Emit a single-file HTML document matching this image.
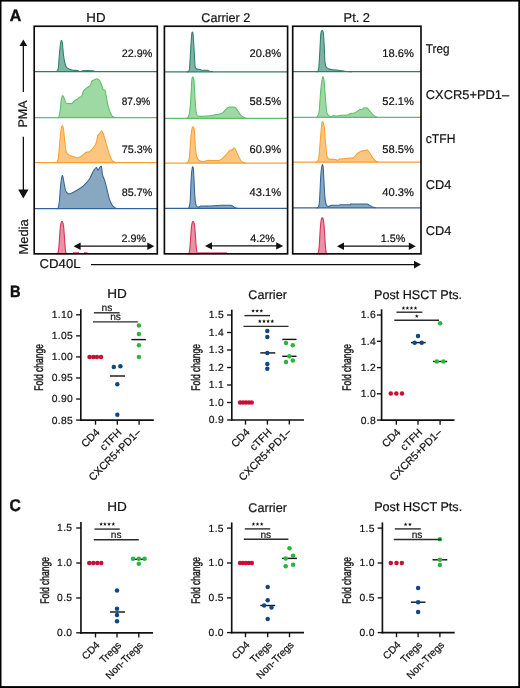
<!DOCTYPE html><html><head><meta charset="utf-8"><style>html,body{margin:0;padding:0;background:#fff;overflow:hidden}svg{display:block;will-change:transform}text{font-family:"Liberation Sans",sans-serif;text-rendering:geometricPrecision}</style></head><body>
<svg width="520" height="688" viewBox="0 0 520 688">
<rect x="0" y="0" width="520" height="688" fill="#fff"/>
<path d="M55.00,71.50 C55.23,71.48 56.50,71.71 56.90,71.30 C57.30,70.89 57.99,70.28 58.30,68.10 C58.61,65.92 59.22,56.11 59.50,53.10 C59.78,50.09 60.36,44.54 60.60,43.00 C60.84,41.46 61.28,40.30 61.50,40.30 C61.72,40.30 62.16,41.24 62.40,43.00 C62.64,44.76 63.19,52.54 63.50,55.00 C63.81,57.46 64.62,62.00 65.00,63.50 C65.38,65.00 66.15,66.82 66.70,67.50 C67.25,68.18 68.83,68.88 69.60,69.20 C70.37,69.52 72.13,70.03 73.10,70.20 C74.07,70.37 76.80,70.43 77.70,70.60 C78.60,70.77 79.98,71.58 80.60,71.60 C81.22,71.62 81.45,70.90 82.90,70.80 C84.35,70.70 91.25,70.72 92.70,70.80 C94.15,70.88 94.48,71.42 95.00,71.50 C95.52,71.58 96.76,71.50 97.00,71.50 L97.00,71.50 L55.00,71.50 Z" fill="#7db4a2" stroke="none"/>
<path d="M55.00,71.50 C55.23,71.48 56.50,71.71 56.90,71.30 C57.30,70.89 57.99,70.28 58.30,68.10 C58.61,65.92 59.22,56.11 59.50,53.10 C59.78,50.09 60.36,44.54 60.60,43.00 C60.84,41.46 61.28,40.30 61.50,40.30 C61.72,40.30 62.16,41.24 62.40,43.00 C62.64,44.76 63.19,52.54 63.50,55.00 C63.81,57.46 64.62,62.00 65.00,63.50 C65.38,65.00 66.15,66.82 66.70,67.50 C67.25,68.18 68.83,68.88 69.60,69.20 C70.37,69.52 72.13,70.03 73.10,70.20 C74.07,70.37 76.80,70.43 77.70,70.60 C78.60,70.77 79.98,71.58 80.60,71.60 C81.22,71.62 81.45,70.90 82.90,70.80 C84.35,70.70 91.25,70.72 92.70,70.80 C94.15,70.88 94.48,71.42 95.00,71.50 C95.52,71.58 96.76,71.50 97.00,71.50" fill="none" stroke="#2b7f69" stroke-width="1.05" stroke-linejoin="round"/>
<line x1="34.2" y1="71.5" x2="157.3" y2="71.5" stroke="#2b7f69" stroke-width="1.25"/>
<path d="M57.00,117.50 C57.20,117.48 58.33,118.08 58.70,117.30 C59.07,116.52 59.78,113.21 60.10,111.00 C60.42,108.79 61.08,100.75 61.40,98.90 C61.72,97.05 62.48,95.68 62.80,95.60 C63.12,95.52 63.69,97.31 64.10,98.20 C64.51,99.09 65.64,102.35 66.20,103.00 C66.76,103.65 68.08,103.58 68.80,103.60 C69.52,103.62 71.47,103.57 72.20,103.20 C72.93,102.83 74.25,101.02 74.90,100.50 C75.55,99.98 77.12,99.25 77.60,98.90 C78.08,98.55 78.42,97.92 78.90,97.60 C79.38,97.28 81.04,97.02 81.60,96.20 C82.16,95.38 83.04,91.76 83.60,90.80 C84.16,89.84 85.48,88.84 86.30,88.20 C87.12,87.56 89.75,86.32 90.40,85.50 C91.05,84.68 91.22,82.08 91.70,81.40 C92.18,80.72 93.75,80.12 94.40,79.80 C95.05,79.48 96.45,78.59 97.10,78.70 C97.75,78.81 99.24,79.88 99.80,80.70 C100.36,81.52 101.39,84.44 101.80,85.50 C102.21,86.56 102.79,88.86 103.20,89.50 C103.61,90.14 104.72,89.35 105.20,90.80 C105.68,92.25 106.72,99.33 107.20,101.60 C107.68,103.87 108.64,108.01 109.20,109.70 C109.76,111.39 111.25,114.78 111.90,115.70 C112.55,116.62 114.11,117.18 114.60,117.40 C115.09,117.62 115.83,117.49 116.00,117.50 L116.00,117.50 L57.00,117.50 Z" fill="#9dd9a3" stroke="none"/>
<path d="M57.00,117.50 C57.20,117.48 58.33,118.08 58.70,117.30 C59.07,116.52 59.78,113.21 60.10,111.00 C60.42,108.79 61.08,100.75 61.40,98.90 C61.72,97.05 62.48,95.68 62.80,95.60 C63.12,95.52 63.69,97.31 64.10,98.20 C64.51,99.09 65.64,102.35 66.20,103.00 C66.76,103.65 68.08,103.58 68.80,103.60 C69.52,103.62 71.47,103.57 72.20,103.20 C72.93,102.83 74.25,101.02 74.90,100.50 C75.55,99.98 77.12,99.25 77.60,98.90 C78.08,98.55 78.42,97.92 78.90,97.60 C79.38,97.28 81.04,97.02 81.60,96.20 C82.16,95.38 83.04,91.76 83.60,90.80 C84.16,89.84 85.48,88.84 86.30,88.20 C87.12,87.56 89.75,86.32 90.40,85.50 C91.05,84.68 91.22,82.08 91.70,81.40 C92.18,80.72 93.75,80.12 94.40,79.80 C95.05,79.48 96.45,78.59 97.10,78.70 C97.75,78.81 99.24,79.88 99.80,80.70 C100.36,81.52 101.39,84.44 101.80,85.50 C102.21,86.56 102.79,88.86 103.20,89.50 C103.61,90.14 104.72,89.35 105.20,90.80 C105.68,92.25 106.72,99.33 107.20,101.60 C107.68,103.87 108.64,108.01 109.20,109.70 C109.76,111.39 111.25,114.78 111.90,115.70 C112.55,116.62 114.11,117.18 114.60,117.40 C115.09,117.62 115.83,117.49 116.00,117.50" fill="none" stroke="#5cbf68" stroke-width="1.05" stroke-linejoin="round"/>
<line x1="34.2" y1="117.5" x2="157.3" y2="117.5" stroke="#5cbf68" stroke-width="1.25"/>
<path d="M55.00,162.70 C55.20,162.66 56.30,162.92 56.70,162.40 C57.10,161.88 57.89,161.30 58.30,158.40 C58.71,155.50 59.73,141.92 60.10,138.20 C60.47,134.48 61.12,128.89 61.40,127.40 C61.68,125.91 62.15,125.63 62.40,125.80 C62.65,125.97 63.21,126.83 63.50,128.80 C63.79,130.77 64.48,139.46 64.80,142.20 C65.12,144.94 65.72,150.06 66.20,151.60 C66.68,153.14 68.00,154.42 68.80,155.00 C69.60,155.58 71.76,156.08 72.90,156.40 C74.04,156.72 77.17,157.82 78.30,157.70 C79.43,157.58 81.34,156.05 82.30,155.40 C83.26,154.75 85.41,152.76 86.30,152.30 C87.19,151.84 88.73,152.32 89.70,151.60 C90.67,150.88 93.60,147.43 94.40,146.30 C95.20,145.17 95.99,143.50 96.40,142.20 C96.81,140.90 97.39,136.54 97.80,135.50 C98.21,134.46 99.36,134.03 99.80,133.50 C100.24,132.97 101.09,131.10 101.50,131.10 C101.91,131.10 102.60,131.84 103.20,133.50 C103.80,135.16 105.70,142.24 106.50,144.90 C107.30,147.56 109.17,153.76 109.90,155.70 C110.63,157.64 111.87,160.27 112.60,161.10 C113.33,161.93 115.47,162.41 116.00,162.60 C116.53,162.79 116.88,162.69 117.00,162.70 L117.00,162.70 L55.00,162.70 Z" fill="#fcc580" stroke="none"/>
<path d="M55.00,162.70 C55.20,162.66 56.30,162.92 56.70,162.40 C57.10,161.88 57.89,161.30 58.30,158.40 C58.71,155.50 59.73,141.92 60.10,138.20 C60.47,134.48 61.12,128.89 61.40,127.40 C61.68,125.91 62.15,125.63 62.40,125.80 C62.65,125.97 63.21,126.83 63.50,128.80 C63.79,130.77 64.48,139.46 64.80,142.20 C65.12,144.94 65.72,150.06 66.20,151.60 C66.68,153.14 68.00,154.42 68.80,155.00 C69.60,155.58 71.76,156.08 72.90,156.40 C74.04,156.72 77.17,157.82 78.30,157.70 C79.43,157.58 81.34,156.05 82.30,155.40 C83.26,154.75 85.41,152.76 86.30,152.30 C87.19,151.84 88.73,152.32 89.70,151.60 C90.67,150.88 93.60,147.43 94.40,146.30 C95.20,145.17 95.99,143.50 96.40,142.20 C96.81,140.90 97.39,136.54 97.80,135.50 C98.21,134.46 99.36,134.03 99.80,133.50 C100.24,132.97 101.09,131.10 101.50,131.10 C101.91,131.10 102.60,131.84 103.20,133.50 C103.80,135.16 105.70,142.24 106.50,144.90 C107.30,147.56 109.17,153.76 109.90,155.70 C110.63,157.64 111.87,160.27 112.60,161.10 C113.33,161.93 115.47,162.41 116.00,162.60 C116.53,162.79 116.88,162.69 117.00,162.70" fill="none" stroke="#f8a031" stroke-width="1.05" stroke-linejoin="round"/>
<line x1="34.2" y1="162.7" x2="157.3" y2="162.7" stroke="#f8a031" stroke-width="1.25"/>
<path d="M56.50,208.40 C56.69,208.38 57.75,209.09 58.10,208.20 C58.45,207.31 59.08,203.96 59.40,201.00 C59.72,198.04 60.44,186.56 60.80,183.50 C61.16,180.44 62.05,175.82 62.40,175.50 C62.75,175.18 63.33,179.02 63.70,180.80 C64.07,182.58 64.96,188.76 65.50,190.30 C66.04,191.84 67.48,193.25 68.20,193.60 C68.92,193.95 70.46,193.60 71.50,193.20 C72.54,192.80 75.45,191.21 76.90,190.30 C78.35,189.39 82.06,186.98 83.60,185.60 C85.14,184.22 88.56,180.50 89.70,178.80 C90.84,177.10 92.30,172.77 93.10,171.40 C93.90,170.03 95.81,167.53 96.40,167.40 C96.99,167.27 97.59,170.30 98.00,170.30 C98.41,170.30 99.38,167.83 99.80,167.40 C100.22,166.97 101.18,165.81 101.50,166.70 C101.82,167.59 102.06,172.94 102.50,174.80 C102.94,176.66 104.40,179.38 105.20,182.20 C106.00,185.02 108.31,195.48 109.20,198.30 C110.09,201.12 111.78,204.50 112.60,205.70 C113.42,206.90 115.47,207.98 116.00,208.30 C116.53,208.62 116.88,208.39 117.00,208.40 L117.00,208.70 L56.50,208.70 Z" fill="#88a8c2" stroke="none"/>
<path d="M56.50,208.40 C56.69,208.38 57.75,209.09 58.10,208.20 C58.45,207.31 59.08,203.96 59.40,201.00 C59.72,198.04 60.44,186.56 60.80,183.50 C61.16,180.44 62.05,175.82 62.40,175.50 C62.75,175.18 63.33,179.02 63.70,180.80 C64.07,182.58 64.96,188.76 65.50,190.30 C66.04,191.84 67.48,193.25 68.20,193.60 C68.92,193.95 70.46,193.60 71.50,193.20 C72.54,192.80 75.45,191.21 76.90,190.30 C78.35,189.39 82.06,186.98 83.60,185.60 C85.14,184.22 88.56,180.50 89.70,178.80 C90.84,177.10 92.30,172.77 93.10,171.40 C93.90,170.03 95.81,167.53 96.40,167.40 C96.99,167.27 97.59,170.30 98.00,170.30 C98.41,170.30 99.38,167.83 99.80,167.40 C100.22,166.97 101.18,165.81 101.50,166.70 C101.82,167.59 102.06,172.94 102.50,174.80 C102.94,176.66 104.40,179.38 105.20,182.20 C106.00,185.02 108.31,195.48 109.20,198.30 C110.09,201.12 111.78,204.50 112.60,205.70 C113.42,206.90 115.47,207.98 116.00,208.30 C116.53,208.62 116.88,208.39 117.00,208.40" fill="none" stroke="#336396" stroke-width="1.05" stroke-linejoin="round"/>
<line x1="34.2" y1="208.7" x2="157.3" y2="208.7" stroke="#336396" stroke-width="1.25"/>
<path d="M186.50,71.80 C186.69,71.79 187.74,72.06 188.10,71.70 C188.46,71.34 189.18,71.74 189.50,68.80 C189.82,65.86 190.52,51.40 190.80,47.20 C191.08,43.00 191.61,35.61 191.80,33.80 C191.99,31.99 192.24,32.08 192.40,32.10 C192.56,32.12 192.90,31.91 193.10,34.00 C193.30,36.09 193.87,45.70 194.10,49.50 C194.33,53.30 194.75,63.38 195.00,65.70 C195.25,68.02 195.55,68.34 196.20,68.80 C196.85,69.26 199.76,69.32 200.40,69.50 C201.04,69.68 200.62,70.20 201.50,70.30 C202.38,70.40 206.78,70.19 207.70,70.30 C208.62,70.41 208.65,71.06 209.20,71.20 C209.75,71.34 211.83,71.43 212.30,71.50 C212.77,71.57 213.00,71.76 213.10,71.80 L213.10,71.80 L186.50,71.80 Z" fill="#7db4a2" stroke="none"/>
<path d="M186.50,71.80 C186.69,71.79 187.74,72.06 188.10,71.70 C188.46,71.34 189.18,71.74 189.50,68.80 C189.82,65.86 190.52,51.40 190.80,47.20 C191.08,43.00 191.61,35.61 191.80,33.80 C191.99,31.99 192.24,32.08 192.40,32.10 C192.56,32.12 192.90,31.91 193.10,34.00 C193.30,36.09 193.87,45.70 194.10,49.50 C194.33,53.30 194.75,63.38 195.00,65.70 C195.25,68.02 195.55,68.34 196.20,68.80 C196.85,69.26 199.76,69.32 200.40,69.50 C201.04,69.68 200.62,70.20 201.50,70.30 C202.38,70.40 206.78,70.19 207.70,70.30 C208.62,70.41 208.65,71.06 209.20,71.20 C209.75,71.34 211.83,71.43 212.30,71.50 C212.77,71.57 213.00,71.76 213.10,71.80" fill="none" stroke="#2b7f69" stroke-width="1.05" stroke-linejoin="round"/>
<line x1="164.4" y1="71.8" x2="287.6" y2="71.8" stroke="#2b7f69" stroke-width="1.25"/>
<path d="M186.00,118.30 C186.17,118.29 186.99,118.75 187.40,118.20 C187.81,117.65 188.99,116.02 189.40,113.70 C189.81,111.38 190.51,102.93 190.80,98.90 C191.09,94.87 191.56,82.72 191.80,80.10 C192.04,77.48 192.55,77.10 192.80,77.10 C193.05,77.10 193.62,77.48 193.90,80.10 C194.18,82.72 194.82,95.02 195.10,98.90 C195.38,102.78 195.83,110.34 196.20,112.40 C196.57,114.46 196.92,115.66 198.20,116.10 C199.48,116.54 204.88,116.26 206.90,116.10 C208.92,115.94 213.38,115.09 215.00,114.80 C216.62,114.51 219.43,113.99 220.40,113.70 C221.37,113.41 222.21,113.12 223.10,112.40 C223.99,111.68 226.91,108.35 227.80,107.70 C228.69,107.05 229.61,107.05 230.50,107.00 C231.39,106.95 234.31,106.82 235.20,107.30 C236.09,107.78 237.18,109.99 237.90,111.00 C238.62,112.01 240.40,114.88 241.20,115.70 C242.00,116.52 244.02,117.49 244.60,117.80 C245.18,118.11 245.83,118.24 246.00,118.30 L246.00,118.30 L186.00,118.30 Z" fill="#9dd9a3" stroke="none"/>
<path d="M186.00,118.30 C186.17,118.29 186.99,118.75 187.40,118.20 C187.81,117.65 188.99,116.02 189.40,113.70 C189.81,111.38 190.51,102.93 190.80,98.90 C191.09,94.87 191.56,82.72 191.80,80.10 C192.04,77.48 192.55,77.10 192.80,77.10 C193.05,77.10 193.62,77.48 193.90,80.10 C194.18,82.72 194.82,95.02 195.10,98.90 C195.38,102.78 195.83,110.34 196.20,112.40 C196.57,114.46 196.92,115.66 198.20,116.10 C199.48,116.54 204.88,116.26 206.90,116.10 C208.92,115.94 213.38,115.09 215.00,114.80 C216.62,114.51 219.43,113.99 220.40,113.70 C221.37,113.41 222.21,113.12 223.10,112.40 C223.99,111.68 226.91,108.35 227.80,107.70 C228.69,107.05 229.61,107.05 230.50,107.00 C231.39,106.95 234.31,106.82 235.20,107.30 C236.09,107.78 237.18,109.99 237.90,111.00 C238.62,112.01 240.40,114.88 241.20,115.70 C242.00,116.52 244.02,117.49 244.60,117.80 C245.18,118.11 245.83,118.24 246.00,118.30" fill="none" stroke="#5cbf68" stroke-width="1.05" stroke-linejoin="round"/>
<line x1="164.4" y1="118.3" x2="287.6" y2="118.3" stroke="#5cbf68" stroke-width="1.25"/>
<path d="M186.00,163.00 C186.17,162.98 187.02,163.35 187.40,162.80 C187.78,162.25 188.79,161.35 189.20,158.40 C189.61,155.45 190.45,141.84 190.80,138.20 C191.15,134.56 191.81,129.46 192.10,128.10 C192.39,126.74 192.94,126.66 193.20,126.90 C193.46,127.14 194.02,127.45 194.30,130.10 C194.58,132.75 195.20,145.77 195.50,149.00 C195.80,152.23 196.32,155.58 196.80,157.00 C197.28,158.42 198.68,160.24 199.50,160.80 C200.32,161.36 202.63,161.75 203.60,161.70 C204.57,161.65 205.75,160.56 207.60,160.40 C209.45,160.24 217.14,160.72 219.00,160.40 C220.86,160.08 222.13,158.50 223.10,157.70 C224.07,156.90 226.30,154.59 227.10,153.70 C227.90,152.81 229.24,150.74 229.80,150.30 C230.36,149.86 231.24,150.29 231.80,150.00 C232.36,149.71 234.01,147.86 234.50,147.90 C234.99,147.94 235.49,149.45 235.90,150.30 C236.31,151.15 237.26,153.70 237.90,155.00 C238.54,156.30 240.40,160.16 241.20,161.10 C242.00,162.04 244.02,162.57 244.60,162.80 C245.18,163.03 245.83,162.98 246.00,163.00 L246.00,163.00 L186.00,163.00 Z" fill="#fcc580" stroke="none"/>
<path d="M186.00,163.00 C186.17,162.98 187.02,163.35 187.40,162.80 C187.78,162.25 188.79,161.35 189.20,158.40 C189.61,155.45 190.45,141.84 190.80,138.20 C191.15,134.56 191.81,129.46 192.10,128.10 C192.39,126.74 192.94,126.66 193.20,126.90 C193.46,127.14 194.02,127.45 194.30,130.10 C194.58,132.75 195.20,145.77 195.50,149.00 C195.80,152.23 196.32,155.58 196.80,157.00 C197.28,158.42 198.68,160.24 199.50,160.80 C200.32,161.36 202.63,161.75 203.60,161.70 C204.57,161.65 205.75,160.56 207.60,160.40 C209.45,160.24 217.14,160.72 219.00,160.40 C220.86,160.08 222.13,158.50 223.10,157.70 C224.07,156.90 226.30,154.59 227.10,153.70 C227.90,152.81 229.24,150.74 229.80,150.30 C230.36,149.86 231.24,150.29 231.80,150.00 C232.36,149.71 234.01,147.86 234.50,147.90 C234.99,147.94 235.49,149.45 235.90,150.30 C236.31,151.15 237.26,153.70 237.90,155.00 C238.54,156.30 240.40,160.16 241.20,161.10 C242.00,162.04 244.02,162.57 244.60,162.80 C245.18,163.03 245.83,162.98 246.00,163.00" fill="none" stroke="#f8a031" stroke-width="1.05" stroke-linejoin="round"/>
<line x1="164.4" y1="163.0" x2="287.6" y2="163.0" stroke="#f8a031" stroke-width="1.25"/>
<path d="M187.00,208.40 C187.20,208.38 188.33,208.92 188.70,208.20 C189.07,207.48 189.80,206.00 190.10,202.40 C190.40,198.80 190.92,182.44 191.20,178.20 C191.48,173.96 192.12,168.07 192.40,167.10 C192.68,166.13 193.21,166.68 193.50,170.10 C193.79,173.52 194.48,191.33 194.80,195.60 C195.12,199.87 195.72,204.32 196.20,205.70 C196.68,207.08 198.24,207.05 198.80,207.10 C199.36,207.15 199.69,206.22 200.90,206.10 C202.11,205.98 206.56,206.20 208.90,206.10 C211.24,206.00 217.81,205.40 220.40,205.30 C222.99,205.20 228.96,205.17 230.50,205.30 C232.04,205.43 232.64,206.10 233.20,206.40 C233.76,206.70 234.64,207.56 235.20,207.80 C235.76,208.04 237.58,208.33 237.90,208.40 L237.90,208.40 L187.00,208.40 Z" fill="#88a8c2" stroke="none"/>
<path d="M187.00,208.40 C187.20,208.38 188.33,208.92 188.70,208.20 C189.07,207.48 189.80,206.00 190.10,202.40 C190.40,198.80 190.92,182.44 191.20,178.20 C191.48,173.96 192.12,168.07 192.40,167.10 C192.68,166.13 193.21,166.68 193.50,170.10 C193.79,173.52 194.48,191.33 194.80,195.60 C195.12,199.87 195.72,204.32 196.20,205.70 C196.68,207.08 198.24,207.05 198.80,207.10 C199.36,207.15 199.69,206.22 200.90,206.10 C202.11,205.98 206.56,206.20 208.90,206.10 C211.24,206.00 217.81,205.40 220.40,205.30 C222.99,205.20 228.96,205.17 230.50,205.30 C232.04,205.43 232.64,206.10 233.20,206.40 C233.76,206.70 234.64,207.56 235.20,207.80 C235.76,208.04 237.58,208.33 237.90,208.40" fill="none" stroke="#336396" stroke-width="1.05" stroke-linejoin="round"/>
<line x1="164.4" y1="208.4" x2="287.6" y2="208.4" stroke="#336396" stroke-width="1.25"/>
<path d="M316.00,71.70 C316.20,71.66 317.36,71.93 317.70,71.40 C318.04,70.87 318.54,69.87 318.80,67.30 C319.06,64.73 319.66,54.03 319.90,50.00 C320.14,45.97 320.55,36.03 320.80,33.70 C321.05,31.37 321.70,30.72 322.00,30.60 C322.30,30.48 323.04,30.95 323.30,32.70 C323.56,34.45 324.01,41.73 324.20,45.20 C324.39,48.67 324.65,58.95 324.90,61.60 C325.15,64.25 325.78,66.40 326.30,67.30 C326.82,68.20 328.44,68.80 329.20,69.10 C329.96,69.40 331.33,69.64 332.60,69.80 C333.87,69.96 338.36,70.23 339.80,70.40 C341.24,70.57 343.10,71.04 344.60,71.20 C346.10,71.36 351.38,71.64 352.30,71.70 L352.30,71.70 L316.00,71.70 Z" fill="#7db4a2" stroke="none"/>
<path d="M316.00,71.70 C316.20,71.66 317.36,71.93 317.70,71.40 C318.04,70.87 318.54,69.87 318.80,67.30 C319.06,64.73 319.66,54.03 319.90,50.00 C320.14,45.97 320.55,36.03 320.80,33.70 C321.05,31.37 321.70,30.72 322.00,30.60 C322.30,30.48 323.04,30.95 323.30,32.70 C323.56,34.45 324.01,41.73 324.20,45.20 C324.39,48.67 324.65,58.95 324.90,61.60 C325.15,64.25 325.78,66.40 326.30,67.30 C326.82,68.20 328.44,68.80 329.20,69.10 C329.96,69.40 331.33,69.64 332.60,69.80 C333.87,69.96 338.36,70.23 339.80,70.40 C341.24,70.57 343.10,71.04 344.60,71.20 C346.10,71.36 351.38,71.64 352.30,71.70" fill="none" stroke="#2b7f69" stroke-width="1.05" stroke-linejoin="round"/>
<line x1="292.7" y1="71.7" x2="421.0" y2="71.7" stroke="#2b7f69" stroke-width="1.25"/>
<path d="M316.00,117.30 C316.17,117.24 317.02,117.56 317.40,116.80 C317.78,116.04 318.79,114.28 319.20,111.00 C319.61,107.72 320.37,93.62 320.80,89.50 C321.23,85.38 322.40,77.67 322.80,76.70 C323.20,75.73 323.78,78.74 324.10,81.40 C324.42,84.06 325.18,95.18 325.50,98.90 C325.82,102.62 326.40,110.38 326.80,112.40 C327.20,114.42 328.24,115.22 328.80,115.70 C329.36,116.18 330.92,116.45 331.50,116.40 C332.08,116.35 333.11,115.34 333.60,115.30 C334.09,115.26 334.71,116.10 335.60,116.10 C336.49,116.10 339.55,115.42 341.00,115.30 C342.45,115.18 346.57,115.32 347.70,115.10 C348.83,114.88 349.60,113.75 350.40,113.50 C351.20,113.25 353.43,113.37 354.40,113.00 C355.37,112.63 357.85,110.83 358.50,110.40 C359.15,109.97 359.40,109.48 359.80,109.40 C360.20,109.32 361.32,109.86 361.80,109.70 C362.28,109.54 363.15,108.29 363.80,108.10 C364.45,107.91 366.55,107.82 367.20,108.10 C367.85,108.38 368.55,109.64 369.20,110.40 C369.85,111.16 371.80,113.63 372.60,114.40 C373.40,115.17 375.31,116.45 375.90,116.80 C376.49,117.15 377.31,117.24 377.50,117.30 L377.50,117.30 L316.00,117.30 Z" fill="#9dd9a3" stroke="none"/>
<path d="M316.00,117.30 C316.17,117.24 317.02,117.56 317.40,116.80 C317.78,116.04 318.79,114.28 319.20,111.00 C319.61,107.72 320.37,93.62 320.80,89.50 C321.23,85.38 322.40,77.67 322.80,76.70 C323.20,75.73 323.78,78.74 324.10,81.40 C324.42,84.06 325.18,95.18 325.50,98.90 C325.82,102.62 326.40,110.38 326.80,112.40 C327.20,114.42 328.24,115.22 328.80,115.70 C329.36,116.18 330.92,116.45 331.50,116.40 C332.08,116.35 333.11,115.34 333.60,115.30 C334.09,115.26 334.71,116.10 335.60,116.10 C336.49,116.10 339.55,115.42 341.00,115.30 C342.45,115.18 346.57,115.32 347.70,115.10 C348.83,114.88 349.60,113.75 350.40,113.50 C351.20,113.25 353.43,113.37 354.40,113.00 C355.37,112.63 357.85,110.83 358.50,110.40 C359.15,109.97 359.40,109.48 359.80,109.40 C360.20,109.32 361.32,109.86 361.80,109.70 C362.28,109.54 363.15,108.29 363.80,108.10 C364.45,107.91 366.55,107.82 367.20,108.10 C367.85,108.38 368.55,109.64 369.20,110.40 C369.85,111.16 371.80,113.63 372.60,114.40 C373.40,115.17 375.31,116.45 375.90,116.80 C376.49,117.15 377.31,117.24 377.50,117.30" fill="none" stroke="#5cbf68" stroke-width="1.05" stroke-linejoin="round"/>
<line x1="292.7" y1="117.3" x2="421.0" y2="117.3" stroke="#5cbf68" stroke-width="1.25"/>
<path d="M315.00,162.20 C315.20,162.19 316.26,162.56 316.70,162.10 C317.14,161.64 318.24,161.27 318.70,158.40 C319.16,155.53 320.13,142.40 320.50,138.20 C320.87,134.00 321.52,125.37 321.80,123.40 C322.08,121.43 322.52,121.48 322.80,121.80 C323.08,122.12 323.78,123.65 324.10,126.10 C324.42,128.55 325.18,138.65 325.50,142.20 C325.82,145.75 326.40,153.68 326.80,155.70 C327.20,157.72 327.74,158.54 328.80,159.00 C329.86,159.46 334.54,159.33 335.60,159.50 C336.66,159.67 337.12,160.46 337.60,160.40 C338.08,160.34 338.71,159.22 339.60,159.00 C340.49,158.78 343.87,158.72 345.00,158.60 C346.13,158.48 348.03,158.11 349.00,158.00 C349.97,157.89 352.13,158.22 353.10,157.70 C354.07,157.18 356.21,154.46 357.10,153.70 C357.99,152.94 359.70,151.76 360.50,151.40 C361.30,151.04 363.00,150.88 363.80,150.70 C364.60,150.52 366.55,149.71 367.20,149.90 C367.85,150.09 368.47,151.28 369.20,152.30 C369.93,153.32 372.50,157.32 373.30,158.40 C374.10,159.48 375.26,160.84 375.90,161.30 C376.54,161.76 378.28,162.09 378.60,162.20 L378.60,162.20 L315.00,162.20 Z" fill="#fcc580" stroke="none"/>
<path d="M315.00,162.20 C315.20,162.19 316.26,162.56 316.70,162.10 C317.14,161.64 318.24,161.27 318.70,158.40 C319.16,155.53 320.13,142.40 320.50,138.20 C320.87,134.00 321.52,125.37 321.80,123.40 C322.08,121.43 322.52,121.48 322.80,121.80 C323.08,122.12 323.78,123.65 324.10,126.10 C324.42,128.55 325.18,138.65 325.50,142.20 C325.82,145.75 326.40,153.68 326.80,155.70 C327.20,157.72 327.74,158.54 328.80,159.00 C329.86,159.46 334.54,159.33 335.60,159.50 C336.66,159.67 337.12,160.46 337.60,160.40 C338.08,160.34 338.71,159.22 339.60,159.00 C340.49,158.78 343.87,158.72 345.00,158.60 C346.13,158.48 348.03,158.11 349.00,158.00 C349.97,157.89 352.13,158.22 353.10,157.70 C354.07,157.18 356.21,154.46 357.10,153.70 C357.99,152.94 359.70,151.76 360.50,151.40 C361.30,151.04 363.00,150.88 363.80,150.70 C364.60,150.52 366.55,149.71 367.20,149.90 C367.85,150.09 368.47,151.28 369.20,152.30 C369.93,153.32 372.50,157.32 373.30,158.40 C374.10,159.48 375.26,160.84 375.90,161.30 C376.54,161.76 378.28,162.09 378.60,162.20" fill="none" stroke="#f8a031" stroke-width="1.05" stroke-linejoin="round"/>
<line x1="292.7" y1="162.2" x2="421.0" y2="162.2" stroke="#f8a031" stroke-width="1.25"/>
<path d="M316.50,207.80 C316.69,207.76 317.75,208.15 318.10,207.50 C318.45,206.85 319.08,206.24 319.40,202.40 C319.72,198.56 320.48,179.94 320.80,175.50 C321.12,171.06 321.81,166.37 322.10,165.40 C322.39,164.43 322.88,163.78 323.20,167.40 C323.52,171.02 324.42,191.08 324.80,195.60 C325.18,200.12 325.92,203.80 326.40,205.10 C326.88,206.40 328.19,206.38 328.80,206.40 C329.41,206.42 330.29,205.43 331.50,205.30 C332.71,205.17 337.84,205.36 338.90,205.30 C339.96,205.24 338.92,204.86 340.30,204.80 C341.68,204.74 349.12,204.88 350.40,204.80 C351.68,204.72 349.07,204.18 351.00,204.10 C352.93,204.02 364.32,203.98 366.50,204.10 C368.68,204.22 368.47,204.74 369.20,205.10 C369.93,205.46 371.80,206.78 372.60,207.10 C373.40,207.42 375.50,207.72 375.90,207.80 L375.90,207.80 L316.50,207.80 Z" fill="#88a8c2" stroke="none"/>
<path d="M316.50,207.80 C316.69,207.76 317.75,208.15 318.10,207.50 C318.45,206.85 319.08,206.24 319.40,202.40 C319.72,198.56 320.48,179.94 320.80,175.50 C321.12,171.06 321.81,166.37 322.10,165.40 C322.39,164.43 322.88,163.78 323.20,167.40 C323.52,171.02 324.42,191.08 324.80,195.60 C325.18,200.12 325.92,203.80 326.40,205.10 C326.88,206.40 328.19,206.38 328.80,206.40 C329.41,206.42 330.29,205.43 331.50,205.30 C332.71,205.17 337.84,205.36 338.90,205.30 C339.96,205.24 338.92,204.86 340.30,204.80 C341.68,204.74 349.12,204.88 350.40,204.80 C351.68,204.72 349.07,204.18 351.00,204.10 C352.93,204.02 364.32,203.98 366.50,204.10 C368.68,204.22 368.47,204.74 369.20,205.10 C369.93,205.46 371.80,206.78 372.60,207.10 C373.40,207.42 375.50,207.72 375.90,207.80" fill="none" stroke="#336396" stroke-width="1.05" stroke-linejoin="round"/>
<line x1="292.7" y1="207.8" x2="421.0" y2="207.8" stroke="#336396" stroke-width="1.25"/>
<path d="M57.00,253.60 C57.13,253.48 57.86,253.56 58.10,252.60 C58.34,251.64 58.81,247.57 59.00,245.57 C59.19,243.58 59.48,238.26 59.65,235.94 C59.82,233.63 60.25,227.98 60.45,226.31 C60.65,224.65 61.11,222.68 61.30,222.10 C61.49,221.52 61.83,221.50 62.00,221.50 C62.17,221.50 62.51,221.52 62.70,222.10 C62.89,222.68 63.35,224.65 63.55,226.31 C63.75,227.98 64.18,233.63 64.35,235.94 C64.52,238.26 64.81,243.58 65.00,245.57 C65.19,247.57 65.66,251.64 65.90,252.60 C66.14,253.56 66.87,253.48 67.00,253.60 Z" fill="#e991a5" stroke="#d23456" stroke-width="1.1"/>
<path d="M188.10,253.60 C188.23,253.48 188.96,253.56 189.20,252.60 C189.44,251.64 189.91,247.57 190.10,245.57 C190.29,243.58 190.58,238.26 190.75,235.94 C190.92,233.63 191.35,227.98 191.55,226.31 C191.75,224.65 192.21,222.68 192.40,222.10 C192.59,221.52 192.93,221.50 193.10,221.50 C193.27,221.50 193.61,221.52 193.80,222.10 C193.99,222.68 194.45,224.65 194.65,226.31 C194.85,227.98 195.28,233.63 195.45,235.94 C195.62,238.26 195.91,243.58 196.10,245.57 C196.29,247.57 196.76,251.64 197.00,252.60 C197.24,253.56 197.97,253.48 198.10,253.60 Z" fill="#e991a5" stroke="#d23456" stroke-width="1.1"/>
<path d="M317.30,253.60 C317.43,253.48 318.16,253.67 318.40,252.60 C318.64,251.53 319.11,246.91 319.30,244.68 C319.49,242.44 319.78,236.54 319.95,233.97 C320.12,231.39 320.55,225.11 320.75,223.25 C320.95,221.40 321.41,219.14 321.60,218.50 C321.79,217.86 322.13,217.90 322.30,217.90 C322.47,217.90 322.81,217.86 323.00,218.50 C323.19,219.14 323.65,221.40 323.85,223.25 C324.05,225.11 324.48,231.39 324.65,233.97 C324.82,236.54 325.11,242.44 325.30,244.68 C325.49,246.91 325.96,251.53 326.20,252.60 C326.44,253.67 327.17,253.48 327.30,253.60 Z" fill="#e991a5" stroke="#d23456" stroke-width="1.1"/>
<line x1="73" y1="252.9" x2="79" y2="252.9" stroke="#d23456" stroke-width="1.3"/>
<line x1="84" y1="252.9" x2="87.5" y2="252.9" stroke="#d23456" stroke-width="1.3"/>
<line x1="198" y1="252.9" x2="227" y2="252.9" stroke="#d23456" stroke-width="1"/>
<rect x="34.2" y="26.25" width="123.10" height="227.60" fill="none" stroke="#0a0a0a" stroke-width="1.65"/>
<rect x="164.4" y="26.25" width="123.20" height="227.60" fill="none" stroke="#0a0a0a" stroke-width="1.65"/>
<rect x="292.7" y="26.25" width="128.30" height="227.60" fill="none" stroke="#0a0a0a" stroke-width="1.65"/>
<text x="121.7" y="56.9" font-size="10.8" text-anchor="start" font-weight="normal" fill="#111" stroke="#111" stroke-width="0.2" >22.9%</text>
<text x="121.7" y="104.9" font-size="10.8" text-anchor="start" font-weight="normal" fill="#111" textLength="28.6" lengthAdjust="spacingAndGlyphs" stroke="#111" stroke-width="0.2" >87.9%</text>
<text x="121.7" y="152.9" font-size="10.8" text-anchor="start" font-weight="normal" fill="#111" stroke="#111" stroke-width="0.2" >75.3%</text>
<text x="121.7" y="196.0" font-size="10.8" text-anchor="start" font-weight="normal" fill="#111" stroke="#111" stroke-width="0.2" >85.7%</text>
<text x="249.6" y="57.3" font-size="11.15" text-anchor="start" font-weight="normal" fill="#111" stroke="#111" stroke-width="0.2" >20.8%</text>
<text x="249.6" y="105.0" font-size="11.15" text-anchor="start" font-weight="normal" fill="#111" stroke="#111" stroke-width="0.2" >58.5%</text>
<text x="249.6" y="153.0" font-size="11.15" text-anchor="start" font-weight="normal" fill="#111" stroke="#111" stroke-width="0.2" >60.9%</text>
<text x="249.6" y="195.8" font-size="11.15" text-anchor="start" font-weight="normal" fill="#111" stroke="#111" stroke-width="0.2" >43.1%</text>
<text x="382.3" y="57.3" font-size="11.15" text-anchor="start" font-weight="normal" fill="#111" stroke="#111" stroke-width="0.2" >18.6%</text>
<text x="382.3" y="105.0" font-size="11.15" text-anchor="start" font-weight="normal" fill="#111" stroke="#111" stroke-width="0.2" >52.1%</text>
<text x="382.3" y="153.0" font-size="11.15" text-anchor="start" font-weight="normal" fill="#111" stroke="#111" stroke-width="0.2" >58.5%</text>
<text x="382.3" y="195.8" font-size="11.15" text-anchor="start" font-weight="normal" fill="#111" stroke="#111" stroke-width="0.2" >40.3%</text>
<text x="121.6" y="241.8" font-size="10.8" text-anchor="start" font-weight="normal" fill="#111" stroke="#111" stroke-width="0.2" >2.9%</text>
<text x="250.3" y="242.0" font-size="10.8" text-anchor="start" font-weight="normal" fill="#111" stroke="#111" stroke-width="0.2" >4.2%</text>
<text x="380.8" y="242.0" font-size="10.8" text-anchor="start" font-weight="normal" fill="#111" stroke="#111" stroke-width="0.2" >1.5%</text>
<line x1="78.6" y1="246.2" x2="149.3" y2="246.2" stroke="#111" stroke-width="1.3"/>
<path d="M73.6,246.2 L80.6,242.5 L80.6,249.89999999999998 Z" fill="#111"/>
<path d="M154.3,246.2 L147.3,242.5 L147.3,249.89999999999998 Z" fill="#111"/>
<line x1="210.0" y1="245.9" x2="278.2" y2="245.9" stroke="#111" stroke-width="1.3"/>
<path d="M205.0,245.9 L212.0,242.20000000000002 L212.0,249.6 Z" fill="#111"/>
<path d="M283.2,245.9 L276.2,242.20000000000002 L276.2,249.6 Z" fill="#111"/>
<line x1="342.0" y1="246.2" x2="410.8" y2="246.2" stroke="#111" stroke-width="1.3"/>
<path d="M337.0,246.2 L344.0,242.5 L344.0,249.89999999999998 Z" fill="#111"/>
<path d="M415.8,246.2 L408.8,242.5 L408.8,249.89999999999998 Z" fill="#111"/>
<text x="95.9" y="21.6" font-size="13.0" text-anchor="middle" font-weight="normal" fill="#111" textLength="19.2" lengthAdjust="spacingAndGlyphs" stroke="#111" stroke-width="0.2" >HD</text>
<text x="225.8" y="21.5" font-size="12.6" text-anchor="middle" font-weight="normal" fill="#111" stroke="#111" stroke-width="0.2" >Carrier 2</text>
<text x="356.8" y="21.5" font-size="12.9" text-anchor="middle" font-weight="normal" fill="#111" stroke="#111" stroke-width="0.2" >Pt. 2</text>
<text x="425.8" y="52.8" font-size="12.8" text-anchor="start" font-weight="normal" fill="#111" textLength="23.6" lengthAdjust="spacingAndGlyphs" stroke="#111" stroke-width="0.2" >Treg</text>
<text x="425.8" y="98.6" font-size="12.8" text-anchor="start" font-weight="normal" fill="#111" textLength="83.3" lengthAdjust="spacingAndGlyphs" stroke="#111" stroke-width="0.2" >CXCR5+PD1–</text>
<text x="425.8" y="142.5" font-size="12.8" text-anchor="start" font-weight="normal" fill="#111" textLength="29.6" lengthAdjust="spacingAndGlyphs" stroke="#111" stroke-width="0.2" >cTFH</text>
<text x="425.8" y="189.2" font-size="12.8" text-anchor="start" font-weight="normal" fill="#111" stroke="#111" stroke-width="0.2" >CD4</text>
<text x="425.8" y="234.8" font-size="12.8" text-anchor="start" font-weight="normal" fill="#111" stroke="#111" stroke-width="0.2" >CD4</text>
<line x1="23.35" y1="45" x2="23.35" y2="92" stroke="#111" stroke-width="1.3"/>
<path d="M23.35,39.4 L27.2,46 L19.5,46 Z" fill="#111"/>
<line x1="23.35" y1="136.8" x2="23.35" y2="191" stroke="#111" stroke-width="1.3"/>
<path d="M23.35,198.6 L28.5,189.5 L18.2,189.5 Z" fill="#111"/>
<text x="0" y="0" font-size="12.5" text-anchor="middle" font-weight="normal" fill="#111" stroke="#111" stroke-width="0.2" transform="translate(27.2,114) rotate(-90)">PMA</text>
<text x="0" y="0" font-size="12.9" text-anchor="middle" font-weight="normal" fill="#111" stroke="#111" stroke-width="0.2" transform="translate(27.7,236.9) rotate(-90)">Media</text>
<text x="39.6" y="268.3" font-size="12.8" text-anchor="start" font-weight="normal" fill="#111" textLength="41.0" lengthAdjust="spacingAndGlyphs" stroke="#111" stroke-width="0.2" >CD40L</text>
<line x1="91" y1="264.6" x2="415" y2="264.6" stroke="#111" stroke-width="1.3"/>
<path d="M421,264.6 L414,260.8 L414,268.4 Z" fill="#111"/>
<text x="0" y="0" font-size="16.3" text-anchor="start" font-weight="bold" fill="#111" stroke="#111" stroke-width="0.45" transform="translate(9.8,20.9) scale(0.98,1)">A</text>
<text x="0" y="0" font-size="16.3" text-anchor="start" font-weight="bold" fill="#111" stroke="#111" stroke-width="0.45" transform="translate(9.9,297.2) scale(0.9,1)">B</text>
<text x="0" y="0" font-size="17.0" text-anchor="start" font-weight="bold" fill="#111" stroke="#111" stroke-width="0.45" transform="translate(9.5,510.6) scale(0.92,1)">C</text>
<line x1="80.8" y1="309.2" x2="80.8" y2="420.90000000000003" stroke="#111" stroke-width="1.65"/>
<line x1="80.0" y1="420.1" x2="153.8" y2="420.1" stroke="#111" stroke-width="1.7"/>
<line x1="76.1" y1="314.8" x2="80.8" y2="314.8" stroke="#111" stroke-width="1.35"/>
<text x="73.15" y="318.2" font-size="10.3" text-anchor="end" font-weight="normal" fill="#111" stroke="#111" stroke-width="0.2" letter-spacing="0.35">1.10</text>
<line x1="76.1" y1="335.86" x2="80.8" y2="335.86" stroke="#111" stroke-width="1.35"/>
<text x="73.15" y="339.26" font-size="10.3" text-anchor="end" font-weight="normal" fill="#111" stroke="#111" stroke-width="0.2" letter-spacing="0.35">1.05</text>
<line x1="76.1" y1="356.92" x2="80.8" y2="356.92" stroke="#111" stroke-width="1.35"/>
<text x="73.15" y="360.32" font-size="10.3" text-anchor="end" font-weight="normal" fill="#111" stroke="#111" stroke-width="0.2" letter-spacing="0.35">1.00</text>
<line x1="76.1" y1="377.98" x2="80.8" y2="377.98" stroke="#111" stroke-width="1.35"/>
<text x="73.15" y="381.38" font-size="10.3" text-anchor="end" font-weight="normal" fill="#111" stroke="#111" stroke-width="0.2" letter-spacing="0.35">0.95</text>
<line x1="76.1" y1="399.04" x2="80.8" y2="399.04" stroke="#111" stroke-width="1.35"/>
<text x="73.15" y="402.44" font-size="10.3" text-anchor="end" font-weight="normal" fill="#111" stroke="#111" stroke-width="0.2" letter-spacing="0.35">0.90</text>
<line x1="76.1" y1="420.1" x2="80.8" y2="420.1" stroke="#111" stroke-width="1.35"/>
<text x="73.15" y="423.5" font-size="10.3" text-anchor="end" font-weight="normal" fill="#111" stroke="#111" stroke-width="0.2" letter-spacing="0.35">0.85</text>
<line x1="95.5" y1="420.1" x2="95.5" y2="424.70000000000005" stroke="#111" stroke-width="1.35"/>
<line x1="117.3" y1="420.1" x2="117.3" y2="424.70000000000005" stroke="#111" stroke-width="1.35"/>
<line x1="139.1" y1="420.1" x2="139.1" y2="424.70000000000005" stroke="#111" stroke-width="1.35"/>
<text x="0" y="0" font-size="10.6" text-anchor="end" font-weight="normal" fill="#111" stroke="#111" stroke-width="0.2" transform="translate(100.4,433.0) rotate(-45)">CD4</text>
<text x="0" y="0" font-size="10.6" text-anchor="end" font-weight="normal" fill="#111" stroke="#111" stroke-width="0.2" transform="translate(122.2,433.0) rotate(-45)">cTFH</text>
<text x="0" y="0" font-size="10.6" text-anchor="end" font-weight="normal" fill="#111" stroke="#111" stroke-width="0.2" transform="translate(141.4,433.0) rotate(-45)">CXCR5+PD1–</text>
<text x="117.1" y="298.1" font-size="13.1" text-anchor="middle" font-weight="normal" fill="#111" textLength="19.6" lengthAdjust="spacingAndGlyphs" stroke="#111" stroke-width="0.2" >HD</text>
<text x="0" y="0" font-size="12.5" text-anchor="middle" font-weight="normal" fill="#111" textLength="46.8" lengthAdjust="spacingAndGlyphs" stroke="#111" stroke-width="0.35" transform="translate(43.3,367.4) rotate(-90)">Fold change</text>
<line x1="109.9" y1="376.0" x2="125.0" y2="376.0" stroke="#111" stroke-width="1.4"/>
<line x1="131.4" y1="339.6" x2="145.9" y2="339.6" stroke="#111" stroke-width="1.4"/>
<circle cx="89.5" cy="356.9" r="2.25" fill="#cc0c35"/>
<circle cx="93.3" cy="356.9" r="2.25" fill="#cc0c35"/>
<circle cx="96.9" cy="356.9" r="2.25" fill="#cc0c35"/>
<circle cx="101.0" cy="356.9" r="2.25" fill="#cc0c35"/>
<circle cx="113.8" cy="366.9" r="2.25" fill="#0f4785"/>
<circle cx="120.4" cy="366.2" r="2.25" fill="#0f4785"/>
<circle cx="117.3" cy="384.2" r="2.25" fill="#0f4785"/>
<circle cx="117.3" cy="414.8" r="2.25" fill="#0f4785"/>
<circle cx="138.9" cy="325.5" r="2.25" fill="#2cb53e"/>
<circle cx="138.9" cy="334.1" r="2.25" fill="#2cb53e"/>
<circle cx="138.9" cy="345.2" r="2.25" fill="#2cb53e"/>
<circle cx="138.9" cy="356.9" r="2.25" fill="#2cb53e"/>
<line x1="93.9" y1="312.8" x2="119.6" y2="312.8" stroke="#2a2a2a" stroke-width="1.4"/>
<text x="106.95" y="310.8" font-size="10.2" text-anchor="middle" font-weight="normal" fill="#1a1a1a" stroke="#1a1a1a" stroke-width="0.2" >ns</text>
<line x1="93.0" y1="321.9" x2="137.8" y2="321.9" stroke="#2a2a2a" stroke-width="1.4"/>
<text x="115.6" y="319.9" font-size="10.2" text-anchor="middle" font-weight="normal" fill="#1a1a1a" stroke="#1a1a1a" stroke-width="0.2" >ns</text>
<line x1="231.8" y1="309.7" x2="231.8" y2="420.8" stroke="#111" stroke-width="1.65"/>
<line x1="231.0" y1="420.0" x2="304.0" y2="420.0" stroke="#111" stroke-width="1.7"/>
<line x1="227.10000000000002" y1="315.0" x2="231.8" y2="315.0" stroke="#111" stroke-width="1.35"/>
<text x="224.15" y="318.4" font-size="10.3" text-anchor="end" font-weight="normal" fill="#111" stroke="#111" stroke-width="0.2" letter-spacing="0.35">1.5</text>
<line x1="227.10000000000002" y1="332.5" x2="231.8" y2="332.5" stroke="#111" stroke-width="1.35"/>
<text x="224.15" y="335.9" font-size="10.3" text-anchor="end" font-weight="normal" fill="#111" stroke="#111" stroke-width="0.2" letter-spacing="0.35">1.4</text>
<line x1="227.10000000000002" y1="350.0" x2="231.8" y2="350.0" stroke="#111" stroke-width="1.35"/>
<text x="224.15" y="353.4" font-size="10.3" text-anchor="end" font-weight="normal" fill="#111" stroke="#111" stroke-width="0.2" letter-spacing="0.35">1.3</text>
<line x1="227.10000000000002" y1="367.5" x2="231.8" y2="367.5" stroke="#111" stroke-width="1.35"/>
<text x="224.15" y="370.9" font-size="10.3" text-anchor="end" font-weight="normal" fill="#111" stroke="#111" stroke-width="0.2" letter-spacing="0.35">1.2</text>
<line x1="227.10000000000002" y1="385.0" x2="231.8" y2="385.0" stroke="#111" stroke-width="1.35"/>
<text x="224.15" y="388.4" font-size="10.3" text-anchor="end" font-weight="normal" fill="#111" stroke="#111" stroke-width="0.2" letter-spacing="0.35">1.1</text>
<line x1="227.10000000000002" y1="402.5" x2="231.8" y2="402.5" stroke="#111" stroke-width="1.35"/>
<text x="224.15" y="405.9" font-size="10.3" text-anchor="end" font-weight="normal" fill="#111" stroke="#111" stroke-width="0.2" letter-spacing="0.35">1.0</text>
<line x1="227.10000000000002" y1="420.0" x2="231.8" y2="420.0" stroke="#111" stroke-width="1.35"/>
<text x="224.15" y="423.4" font-size="10.3" text-anchor="end" font-weight="normal" fill="#111" stroke="#111" stroke-width="0.2" letter-spacing="0.35">0.9</text>
<line x1="245.5" y1="420.0" x2="245.5" y2="424.6" stroke="#111" stroke-width="1.35"/>
<line x1="267.4" y1="420.0" x2="267.4" y2="424.6" stroke="#111" stroke-width="1.35"/>
<line x1="289.3" y1="420.0" x2="289.3" y2="424.6" stroke="#111" stroke-width="1.35"/>
<text x="0" y="0" font-size="10.6" text-anchor="end" font-weight="normal" fill="#111" stroke="#111" stroke-width="0.2" transform="translate(250.4,432.9) rotate(-45)">CD4</text>
<text x="0" y="0" font-size="10.6" text-anchor="end" font-weight="normal" fill="#111" stroke="#111" stroke-width="0.2" transform="translate(272.29999999999995,432.9) rotate(-45)">cTFH</text>
<text x="0" y="0" font-size="10.6" text-anchor="end" font-weight="normal" fill="#111" stroke="#111" stroke-width="0.2" transform="translate(291.59999999999997,432.9) rotate(-45)">CXCR5+PD1–</text>
<text x="267.6" y="298.5" font-size="12.6" text-anchor="middle" font-weight="normal" fill="#111" stroke="#111" stroke-width="0.2" >Carrier</text>
<text x="0" y="0" font-size="12.5" text-anchor="middle" font-weight="normal" fill="#111" textLength="46.8" lengthAdjust="spacingAndGlyphs" stroke="#111" stroke-width="0.35" transform="translate(200.1,367.4) rotate(-90)">Fold change</text>
<line x1="260.3" y1="352.9" x2="275.3" y2="352.9" stroke="#111" stroke-width="1.4"/>
<line x1="282.3" y1="339.4" x2="296.5" y2="339.4" stroke="#111" stroke-width="1.4"/>
<line x1="282.3" y1="356.3" x2="296.5" y2="356.3" stroke="#111" stroke-width="1.4"/>
<circle cx="240.1" cy="402.5" r="2.25" fill="#cc0c35"/>
<circle cx="243.0" cy="402.5" r="2.25" fill="#cc0c35"/>
<circle cx="245.9" cy="402.5" r="2.25" fill="#cc0c35"/>
<circle cx="248.8" cy="402.5" r="2.25" fill="#cc0c35"/>
<circle cx="251.7" cy="402.5" r="2.25" fill="#cc0c35"/>
<circle cx="267.3" cy="330.9" r="2.25" fill="#0f4785"/>
<circle cx="267.3" cy="336.9" r="2.25" fill="#0f4785"/>
<circle cx="267.3" cy="352.9" r="2.25" fill="#0f4785"/>
<circle cx="267.3" cy="364.0" r="2.25" fill="#0f4785"/>
<circle cx="267.3" cy="368.8" r="2.25" fill="#0f4785"/>
<circle cx="286.0" cy="342.9" r="2.25" fill="#2cb53e"/>
<circle cx="292.8" cy="345.3" r="2.25" fill="#2cb53e"/>
<circle cx="289.4" cy="356.3" r="2.25" fill="#2cb53e"/>
<circle cx="286.0" cy="361.9" r="2.25" fill="#2cb53e"/>
<circle cx="292.8" cy="360.6" r="2.25" fill="#2cb53e"/>
<line x1="244.4" y1="315.6" x2="270.0" y2="315.6" stroke="#2a2a2a" stroke-width="1.4"/>
<polygon points="253.10,308.90 253.60,310.21 255.00,310.28 253.91,311.16 254.28,312.52 253.10,311.75 251.92,312.52 252.29,311.16 251.20,310.28 252.60,310.21" fill="#111"/>
<polygon points="257.10,308.90 257.60,310.21 259.00,310.28 257.91,311.16 258.28,312.52 257.10,311.75 255.92,312.52 256.29,311.16 255.20,310.28 256.60,310.21" fill="#111"/>
<polygon points="261.30,308.90 261.80,310.21 263.20,310.28 262.11,311.16 262.48,312.52 261.30,311.75 260.12,312.52 260.49,311.16 259.40,310.28 260.80,310.21" fill="#111"/>
<line x1="243.5" y1="326.4" x2="288.5" y2="326.4" stroke="#2a2a2a" stroke-width="1.4"/>
<polygon points="259.80,319.30 260.30,320.61 261.70,320.68 260.61,321.56 260.98,322.92 259.80,322.15 258.62,322.92 258.99,321.56 257.90,320.68 259.30,320.61" fill="#111"/>
<polygon points="264.00,319.30 264.50,320.61 265.90,320.68 264.81,321.56 265.18,322.92 264.00,322.15 262.82,322.92 263.19,321.56 262.10,320.68 263.50,320.61" fill="#111"/>
<polygon points="268.10,319.30 268.60,320.61 270.00,320.68 268.91,321.56 269.28,322.92 268.10,322.15 266.92,322.92 267.29,321.56 266.20,320.68 267.60,320.61" fill="#111"/>
<polygon points="272.30,319.30 272.80,320.61 274.20,320.68 273.11,321.56 273.48,322.92 272.30,322.15 271.12,322.92 271.49,321.56 270.40,320.68 271.80,320.61" fill="#111"/>
<line x1="381.6" y1="309.3" x2="381.6" y2="420.90000000000003" stroke="#111" stroke-width="1.65"/>
<line x1="380.8" y1="420.1" x2="454.5" y2="420.1" stroke="#111" stroke-width="1.7"/>
<line x1="376.90000000000003" y1="315.0" x2="381.6" y2="315.0" stroke="#111" stroke-width="1.35"/>
<text x="376.04999999999995" y="318.4" font-size="10.3" text-anchor="end" font-weight="normal" fill="#111" stroke="#111" stroke-width="0.2" letter-spacing="0.35">1.6</text>
<line x1="376.90000000000003" y1="341.3" x2="381.6" y2="341.3" stroke="#111" stroke-width="1.35"/>
<text x="376.04999999999995" y="344.7" font-size="10.3" text-anchor="end" font-weight="normal" fill="#111" stroke="#111" stroke-width="0.2" letter-spacing="0.35">1.4</text>
<line x1="376.90000000000003" y1="367.6" x2="381.6" y2="367.6" stroke="#111" stroke-width="1.35"/>
<text x="376.04999999999995" y="371.0" font-size="10.3" text-anchor="end" font-weight="normal" fill="#111" stroke="#111" stroke-width="0.2" letter-spacing="0.35">1.2</text>
<line x1="376.90000000000003" y1="393.8" x2="381.6" y2="393.8" stroke="#111" stroke-width="1.35"/>
<text x="376.04999999999995" y="397.2" font-size="10.3" text-anchor="end" font-weight="normal" fill="#111" stroke="#111" stroke-width="0.2" letter-spacing="0.35">1.0</text>
<line x1="376.90000000000003" y1="420.1" x2="381.6" y2="420.1" stroke="#111" stroke-width="1.35"/>
<text x="376.04999999999995" y="423.5" font-size="10.3" text-anchor="end" font-weight="normal" fill="#111" stroke="#111" stroke-width="0.2" letter-spacing="0.35">0.8</text>
<line x1="396.3" y1="420.1" x2="396.3" y2="424.70000000000005" stroke="#111" stroke-width="1.35"/>
<line x1="418.0" y1="420.1" x2="418.0" y2="424.70000000000005" stroke="#111" stroke-width="1.35"/>
<line x1="440.1" y1="420.1" x2="440.1" y2="424.70000000000005" stroke="#111" stroke-width="1.35"/>
<text x="0" y="0" font-size="10.6" text-anchor="end" font-weight="normal" fill="#111" stroke="#111" stroke-width="0.2" transform="translate(401.2,433.0) rotate(-45)">CD4</text>
<text x="0" y="0" font-size="10.6" text-anchor="end" font-weight="normal" fill="#111" stroke="#111" stroke-width="0.2" transform="translate(422.9,433.0) rotate(-45)">cTFH</text>
<text x="0" y="0" font-size="10.6" text-anchor="end" font-weight="normal" fill="#111" stroke="#111" stroke-width="0.2" transform="translate(442.4,433.0) rotate(-45)">CXCR5+PD1–</text>
<text x="418.0" y="298.5" font-size="12.6" text-anchor="middle" font-weight="normal" fill="#111" stroke="#111" stroke-width="0.2" >Post HSCT Pts.</text>
<text x="0" y="0" font-size="12.5" text-anchor="middle" font-weight="normal" fill="#111" textLength="46.8" lengthAdjust="spacingAndGlyphs" stroke="#111" stroke-width="0.35" transform="translate(350.5,367.4) rotate(-90)">Fold change</text>
<line x1="410.9" y1="342.6" x2="425.7" y2="342.6" stroke="#111" stroke-width="1.4"/>
<line x1="433.0" y1="361.5" x2="447.2" y2="361.5" stroke="#111" stroke-width="1.4"/>
<circle cx="390.8" cy="393.6" r="2.25" fill="#cc0c35"/>
<circle cx="396.3" cy="393.6" r="2.25" fill="#cc0c35"/>
<circle cx="402.0" cy="393.6" r="2.25" fill="#cc0c35"/>
<circle cx="418.0" cy="336.0" r="2.25" fill="#0f4785"/>
<circle cx="414.7" cy="342.7" r="2.25" fill="#0f4785"/>
<circle cx="421.7" cy="342.7" r="2.25" fill="#0f4785"/>
<circle cx="440.1" cy="323.2" r="2.25" fill="#2cb53e"/>
<circle cx="436.8" cy="361.5" r="2.25" fill="#2cb53e"/>
<circle cx="443.4" cy="361.5" r="2.25" fill="#2cb53e"/>
<line x1="396.5" y1="312.2" x2="422.4" y2="312.2" stroke="#2a2a2a" stroke-width="1.4"/>
<polygon points="403.40,306.10 403.90,307.41 405.30,307.48 404.21,308.36 404.58,309.72 403.40,308.95 402.22,309.72 402.59,308.36 401.50,307.48 402.90,307.41" fill="#111"/>
<polygon points="407.40,306.10 407.90,307.41 409.30,307.48 408.21,308.36 408.58,309.72 407.40,308.95 406.22,309.72 406.59,308.36 405.50,307.48 406.90,307.41" fill="#111"/>
<polygon points="411.40,306.10 411.90,307.41 413.30,307.48 412.21,308.36 412.58,309.72 411.40,308.95 410.22,309.72 410.59,308.36 409.50,307.48 410.90,307.41" fill="#111"/>
<polygon points="415.50,306.10 416.00,307.41 417.40,307.48 416.31,308.36 416.68,309.72 415.50,308.95 414.32,309.72 414.69,308.36 413.60,307.48 415.00,307.41" fill="#111"/>
<line x1="394.3" y1="320.3" x2="439.0" y2="320.3" stroke="#2a2a2a" stroke-width="1.4"/>
<polygon points="416.80,314.20 417.30,315.51 418.70,315.58 417.61,316.46 417.98,317.82 416.80,317.05 415.62,317.82 415.99,316.46 414.90,315.58 416.30,315.51" fill="#111"/>
<line x1="80.95" y1="522.0" x2="80.95" y2="633.6999999999999" stroke="#111" stroke-width="1.65"/>
<line x1="80.15" y1="632.9" x2="153.0" y2="632.9" stroke="#111" stroke-width="1.7"/>
<line x1="76.25" y1="528.0" x2="80.95" y2="528.0" stroke="#111" stroke-width="1.35"/>
<text x="72.45" y="531.4" font-size="10.3" text-anchor="end" font-weight="normal" fill="#111" stroke="#111" stroke-width="0.2" letter-spacing="0.35">1.5</text>
<line x1="76.25" y1="563.0" x2="80.95" y2="563.0" stroke="#111" stroke-width="1.35"/>
<text x="72.45" y="566.4" font-size="10.3" text-anchor="end" font-weight="normal" fill="#111" stroke="#111" stroke-width="0.2" letter-spacing="0.35">1.0</text>
<line x1="76.25" y1="598.0" x2="80.95" y2="598.0" stroke="#111" stroke-width="1.35"/>
<text x="72.45" y="601.4" font-size="10.3" text-anchor="end" font-weight="normal" fill="#111" stroke="#111" stroke-width="0.2" letter-spacing="0.35">0.5</text>
<line x1="76.25" y1="632.8" x2="80.95" y2="632.8" stroke="#111" stroke-width="1.35"/>
<text x="72.45" y="636.1999999999999" font-size="10.3" text-anchor="end" font-weight="normal" fill="#111" stroke="#111" stroke-width="0.2" letter-spacing="0.35">0.0</text>
<line x1="95.5" y1="632.9" x2="95.5" y2="637.5" stroke="#111" stroke-width="1.35"/>
<line x1="117.0" y1="632.9" x2="117.0" y2="637.5" stroke="#111" stroke-width="1.35"/>
<line x1="138.8" y1="632.9" x2="138.8" y2="637.5" stroke="#111" stroke-width="1.35"/>
<text x="0" y="0" font-size="10.25" text-anchor="end" font-weight="normal" fill="#111" stroke="#111" stroke-width="0.2" transform="translate(100.4,645.8) rotate(-45)">CD4</text>
<text x="0" y="0" font-size="10.25" text-anchor="end" font-weight="normal" fill="#111" stroke="#111" stroke-width="0.2" transform="translate(121.9,645.8) rotate(-45)">Tregs</text>
<text x="0" y="0" font-size="10.25" text-anchor="end" font-weight="normal" fill="#111" stroke="#111" stroke-width="0.2" transform="translate(143.70000000000002,645.8) rotate(-45)">Non-Tregs</text>
<text x="117.1" y="510.6" font-size="13.1" text-anchor="middle" font-weight="normal" fill="#111" textLength="19.6" lengthAdjust="spacingAndGlyphs" stroke="#111" stroke-width="0.2" >HD</text>
<text x="0" y="0" font-size="12.5" text-anchor="middle" font-weight="normal" fill="#111" textLength="46.8" lengthAdjust="spacingAndGlyphs" stroke="#111" stroke-width="0.35" transform="translate(49.2,580.4) rotate(-90)">Fold change</text>
<line x1="110.0" y1="612.0" x2="125.0" y2="612.0" stroke="#111" stroke-width="1.4"/>
<line x1="131.3" y1="559.3" x2="146.3" y2="559.3" stroke="#111" stroke-width="1.4"/>
<circle cx="89.25" cy="563.0" r="2.25" fill="#cc0c35"/>
<circle cx="93.25" cy="563.0" r="2.25" fill="#cc0c35"/>
<circle cx="97.25" cy="563.0" r="2.25" fill="#cc0c35"/>
<circle cx="101.25" cy="563.0" r="2.25" fill="#cc0c35"/>
<circle cx="117.0" cy="590.5" r="2.25" fill="#0f4785"/>
<circle cx="117.0" cy="608.8" r="2.25" fill="#0f4785"/>
<circle cx="117.0" cy="615.0" r="2.25" fill="#0f4785"/>
<circle cx="117.0" cy="621.3" r="2.25" fill="#0f4785"/>
<circle cx="133.0" cy="558.8" r="2.25" fill="#2cb53e"/>
<circle cx="138.8" cy="558.8" r="2.25" fill="#2cb53e"/>
<circle cx="144.5" cy="558.8" r="2.25" fill="#2cb53e"/>
<circle cx="138.8" cy="563.8" r="2.25" fill="#2cb53e"/>
<line x1="94.5" y1="529.1" x2="119.8" y2="529.1" stroke="#2a2a2a" stroke-width="1.4"/>
<polygon points="101.10,522.10 101.60,523.41 103.00,523.48 101.91,524.36 102.28,525.72 101.10,524.95 99.92,525.72 100.29,524.36 99.20,523.48 100.60,523.41" fill="#111"/>
<polygon points="104.90,522.10 105.40,523.41 106.80,523.48 105.71,524.36 106.08,525.72 104.90,524.95 103.72,525.72 104.09,524.36 103.00,523.48 104.40,523.41" fill="#111"/>
<polygon points="109.00,522.10 109.50,523.41 110.90,523.48 109.81,524.36 110.18,525.72 109.00,524.95 107.82,525.72 108.19,524.36 107.10,523.48 108.50,523.41" fill="#111"/>
<polygon points="113.30,522.10 113.80,523.41 115.20,523.48 114.11,524.36 114.48,525.72 113.30,524.95 112.12,525.72 112.49,524.36 111.40,523.48 112.80,523.41" fill="#111"/>
<line x1="93.8" y1="539.7" x2="138.8" y2="539.7" stroke="#2a2a2a" stroke-width="1.4"/>
<text x="116.15" y="537.6" font-size="10.2" text-anchor="middle" font-weight="normal" fill="#1a1a1a" stroke="#1a1a1a" stroke-width="0.2" >ns</text>
<line x1="231.7" y1="522.4" x2="231.7" y2="633.4" stroke="#111" stroke-width="1.65"/>
<line x1="230.89999999999998" y1="632.6" x2="304.0" y2="632.6" stroke="#111" stroke-width="1.7"/>
<line x1="227.0" y1="528.1" x2="231.7" y2="528.1" stroke="#111" stroke-width="1.35"/>
<text x="223.95000000000002" y="531.5" font-size="10.3" text-anchor="end" font-weight="normal" fill="#111" stroke="#111" stroke-width="0.2" letter-spacing="0.35">1.5</text>
<line x1="227.0" y1="563.0" x2="231.7" y2="563.0" stroke="#111" stroke-width="1.35"/>
<text x="223.95000000000002" y="566.4" font-size="10.3" text-anchor="end" font-weight="normal" fill="#111" stroke="#111" stroke-width="0.2" letter-spacing="0.35">1.0</text>
<line x1="227.0" y1="597.9" x2="231.7" y2="597.9" stroke="#111" stroke-width="1.35"/>
<text x="223.95000000000002" y="601.3" font-size="10.3" text-anchor="end" font-weight="normal" fill="#111" stroke="#111" stroke-width="0.2" letter-spacing="0.35">0.5</text>
<line x1="227.0" y1="632.6" x2="231.7" y2="632.6" stroke="#111" stroke-width="1.35"/>
<text x="223.95000000000002" y="636.0" font-size="10.3" text-anchor="end" font-weight="normal" fill="#111" stroke="#111" stroke-width="0.2" letter-spacing="0.35">0.0</text>
<line x1="245.5" y1="632.6" x2="245.5" y2="637.2" stroke="#111" stroke-width="1.35"/>
<line x1="267.7" y1="632.6" x2="267.7" y2="637.2" stroke="#111" stroke-width="1.35"/>
<line x1="289.5" y1="632.6" x2="289.5" y2="637.2" stroke="#111" stroke-width="1.35"/>
<text x="0" y="0" font-size="10.25" text-anchor="end" font-weight="normal" fill="#111" stroke="#111" stroke-width="0.2" transform="translate(250.4,645.5) rotate(-45)">CD4</text>
<text x="0" y="0" font-size="10.25" text-anchor="end" font-weight="normal" fill="#111" stroke="#111" stroke-width="0.2" transform="translate(272.59999999999997,645.5) rotate(-45)">Tregs</text>
<text x="0" y="0" font-size="10.25" text-anchor="end" font-weight="normal" fill="#111" stroke="#111" stroke-width="0.2" transform="translate(294.4,645.5) rotate(-45)">Non-Tregs</text>
<text x="267.6" y="511.5" font-size="12.6" text-anchor="middle" font-weight="normal" fill="#111" stroke="#111" stroke-width="0.2" >Carrier</text>
<text x="0" y="0" font-size="12.5" text-anchor="middle" font-weight="normal" fill="#111" textLength="46.8" lengthAdjust="spacingAndGlyphs" stroke="#111" stroke-width="0.35" transform="translate(200.1,580.4) rotate(-90)">Fold change</text>
<line x1="260.3" y1="605.5" x2="275.1" y2="605.5" stroke="#111" stroke-width="1.4"/>
<line x1="282.1" y1="558.4" x2="296.9" y2="558.4" stroke="#111" stroke-width="1.4"/>
<circle cx="240.0" cy="562.9" r="2.25" fill="#cc0c35"/>
<circle cx="242.95" cy="562.9" r="2.25" fill="#cc0c35"/>
<circle cx="245.9" cy="562.9" r="2.25" fill="#cc0c35"/>
<circle cx="248.85" cy="562.9" r="2.25" fill="#cc0c35"/>
<circle cx="251.8" cy="562.9" r="2.25" fill="#cc0c35"/>
<circle cx="267.7" cy="586.9" r="2.25" fill="#0f4785"/>
<circle cx="267.7" cy="600.3" r="2.25" fill="#0f4785"/>
<circle cx="264.1" cy="605.5" r="2.25" fill="#0f4785"/>
<circle cx="271.5" cy="607.4" r="2.25" fill="#0f4785"/>
<circle cx="267.7" cy="619.1" r="2.25" fill="#0f4785"/>
<circle cx="289.5" cy="548.2" r="2.25" fill="#2cb53e"/>
<circle cx="293.1" cy="555.8" r="2.25" fill="#2cb53e"/>
<circle cx="285.7" cy="558.4" r="2.25" fill="#2cb53e"/>
<circle cx="293.1" cy="564.7" r="2.25" fill="#2cb53e"/>
<circle cx="285.7" cy="566.2" r="2.25" fill="#2cb53e"/>
<line x1="244.8" y1="528.9" x2="270.2" y2="528.9" stroke="#2a2a2a" stroke-width="1.4"/>
<polygon points="253.40,522.10 253.90,523.41 255.30,523.48 254.21,524.36 254.58,525.72 253.40,524.95 252.22,525.72 252.59,524.36 251.50,523.48 252.90,523.41" fill="#111"/>
<polygon points="257.50,522.10 258.00,523.41 259.40,523.48 258.31,524.36 258.68,525.72 257.50,524.95 256.32,525.72 256.69,524.36 255.60,523.48 257.00,523.41" fill="#111"/>
<polygon points="261.70,522.10 262.20,523.41 263.60,523.48 262.51,524.36 262.88,525.72 261.70,524.95 260.52,525.72 260.89,524.36 259.80,523.48 261.20,523.41" fill="#111"/>
<line x1="243.8" y1="539.2" x2="288.4" y2="539.2" stroke="#2a2a2a" stroke-width="1.4"/>
<text x="265.85" y="537.5" font-size="10.2" text-anchor="middle" font-weight="normal" fill="#1a1a1a" stroke="#1a1a1a" stroke-width="0.2" >ns</text>
<line x1="382.4" y1="522.4" x2="382.4" y2="633.4" stroke="#111" stroke-width="1.65"/>
<line x1="381.59999999999997" y1="632.6" x2="454.7" y2="632.6" stroke="#111" stroke-width="1.7"/>
<line x1="377.7" y1="528.1" x2="382.4" y2="528.1" stroke="#111" stroke-width="1.35"/>
<text x="374.84999999999997" y="531.5" font-size="10.3" text-anchor="end" font-weight="normal" fill="#111" stroke="#111" stroke-width="0.2" letter-spacing="0.35">1.5</text>
<line x1="377.7" y1="563.0" x2="382.4" y2="563.0" stroke="#111" stroke-width="1.35"/>
<text x="374.84999999999997" y="566.4" font-size="10.3" text-anchor="end" font-weight="normal" fill="#111" stroke="#111" stroke-width="0.2" letter-spacing="0.35">1.0</text>
<line x1="377.7" y1="597.9" x2="382.4" y2="597.9" stroke="#111" stroke-width="1.35"/>
<text x="374.84999999999997" y="601.3" font-size="10.3" text-anchor="end" font-weight="normal" fill="#111" stroke="#111" stroke-width="0.2" letter-spacing="0.35">0.5</text>
<line x1="377.7" y1="632.6" x2="382.4" y2="632.6" stroke="#111" stroke-width="1.35"/>
<text x="374.84999999999997" y="636.0" font-size="10.3" text-anchor="end" font-weight="normal" fill="#111" stroke="#111" stroke-width="0.2" letter-spacing="0.35">0.0</text>
<line x1="396.5" y1="632.6" x2="396.5" y2="637.2" stroke="#111" stroke-width="1.35"/>
<line x1="418.1" y1="632.6" x2="418.1" y2="637.2" stroke="#111" stroke-width="1.35"/>
<line x1="439.9" y1="632.6" x2="439.9" y2="637.2" stroke="#111" stroke-width="1.35"/>
<text x="0" y="0" font-size="10.25" text-anchor="end" font-weight="normal" fill="#111" stroke="#111" stroke-width="0.2" transform="translate(401.4,645.5) rotate(-45)">CD4</text>
<text x="0" y="0" font-size="10.25" text-anchor="end" font-weight="normal" fill="#111" stroke="#111" stroke-width="0.2" transform="translate(423.0,645.5) rotate(-45)">Tregs</text>
<text x="0" y="0" font-size="10.25" text-anchor="end" font-weight="normal" fill="#111" stroke="#111" stroke-width="0.2" transform="translate(444.79999999999995,645.5) rotate(-45)">Non-Tregs</text>
<text x="418.2" y="511.4" font-size="12.6" text-anchor="middle" font-weight="normal" fill="#111" stroke="#111" stroke-width="0.2" >Post HSCT Pts.</text>
<text x="0" y="0" font-size="12.5" text-anchor="middle" font-weight="normal" fill="#111" textLength="46.8" lengthAdjust="spacingAndGlyphs" stroke="#111" stroke-width="0.35" transform="translate(350.5,580.4) rotate(-90)">Fold change</text>
<line x1="410.9" y1="602.2" x2="425.5" y2="602.2" stroke="#111" stroke-width="1.4"/>
<line x1="432.5" y1="559.8" x2="447.3" y2="559.8" stroke="#111" stroke-width="1.4"/>
<circle cx="390.8" cy="563.0" r="2.25" fill="#cc0c35"/>
<circle cx="396.5" cy="563.0" r="2.25" fill="#cc0c35"/>
<circle cx="401.8" cy="563.0" r="2.25" fill="#cc0c35"/>
<circle cx="418.1" cy="588.0" r="2.25" fill="#0f4785"/>
<circle cx="418.1" cy="602.2" r="2.25" fill="#0f4785"/>
<circle cx="418.1" cy="611.9" r="2.25" fill="#0f4785"/>
<circle cx="439.9" cy="539.3" r="2.25" fill="#2cb53e"/>
<circle cx="439.9" cy="559.8" r="2.25" fill="#2cb53e"/>
<circle cx="439.9" cy="565.1" r="2.25" fill="#2cb53e"/>
<line x1="394.8" y1="528.9" x2="420.9" y2="528.9" stroke="#2a2a2a" stroke-width="1.4"/>
<polygon points="405.60,522.40 406.10,523.71 407.50,523.78 406.41,524.66 406.78,526.02 405.60,525.25 404.42,526.02 404.79,524.66 403.70,523.78 405.10,523.71" fill="#111"/>
<polygon points="409.90,522.40 410.40,523.71 411.80,523.78 410.71,524.66 411.08,526.02 409.90,525.25 408.72,526.02 409.09,524.66 408.00,523.78 409.40,523.71" fill="#111"/>
<line x1="393.8" y1="539.5" x2="441.0" y2="539.5" stroke="#2a2a2a" stroke-width="1.4"/>
<text x="417.05" y="537.5" font-size="10.2" text-anchor="middle" font-weight="normal" fill="#1a1a1a" stroke="#1a1a1a" stroke-width="0.2" >ns</text>
<rect x="0" y="0" width="520" height="1.6" fill="#000"/>
<rect x="0" y="0" width="1.5" height="688" fill="#000"/>
<rect x="518.3" y="0" width="1.7" height="688" fill="#000"/>
<rect x="0" y="686.1" width="520" height="1.9" fill="#000"/>
</svg></body></html>
